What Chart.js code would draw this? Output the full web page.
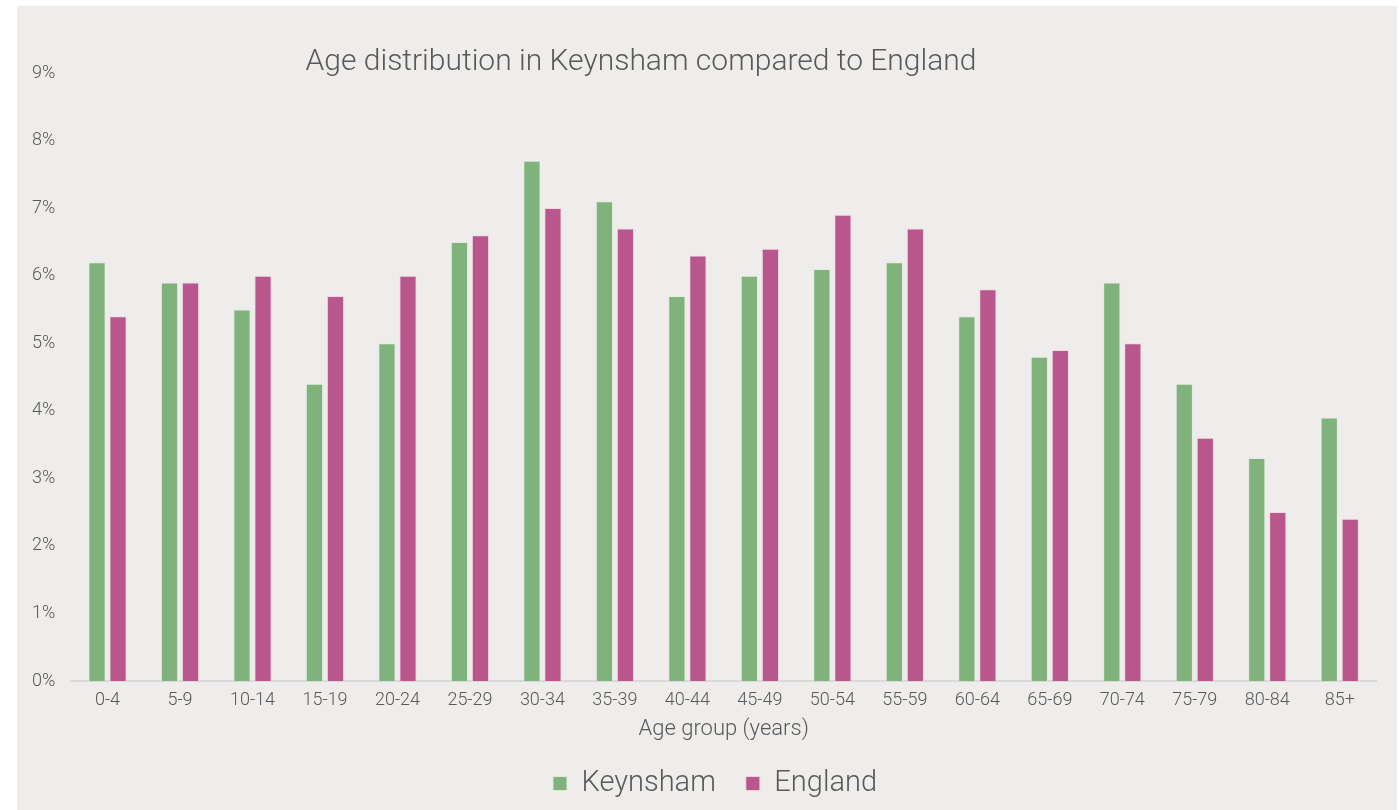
<!DOCTYPE html>
<html>
<head>
<meta charset="utf-8">
<script src="https://cdn.jsdelivr.net/npm/chart.js@4/dist/chart.umd.min.js"></script>
<style>
  html, body { margin: 0; padding: 0; background: #ffffff; }
  #wrap { position: absolute; left: 17px; top: 6px; width: 1380px; height: 804px; background: #eeedeb; }
  canvas { display: block; }
</style>
</head>
<body>
<div id="wrap"><canvas id="c" width="1380" height="804"></canvas></div>
<script>
const categories = ["0-4","5-9","10-14","15-19","20-24","25-29","30-34","35-39","40-44","45-49","50-54","55-59","60-64","65-69","70-74","75-79","80-84","85+"];
const keynsham = [6.2,5.9,5.5,4.4,5.0,6.5,7.7,7.1,5.7,6.0,6.1,6.2,5.4,4.8,5.9,4.4,3.3,3.9];
const england  = [5.4,5.9,6.0,5.7,6.0,6.6,7.0,6.7,6.3,6.4,6.9,6.7,5.8,4.9,5.0,3.6,2.5,2.4];
const yTicks = [0,1,2,3,4,5,6,7,8,9];
const titleText = "Age distribution in Keynsham compared to England";
const xTitle = "Age group (years)";

const FONT = "Roboto, 'Liberation Sans', sans-serif";
const TEXT = "#595959";

const shiftPlugin = {
  id: 'shiftBoxes',
  afterLayout(chart) {
    const t = chart.titleBlock;
    if (t) { const d = 624 - (t.left + t.right) / 2; t.left += d; t.right += d; }
    const l = chart.legend;
    if (l) {
      const d = 698 - (l.left + l.right) / 2; l.left += d; l.right += d;
      l.top += 2; l.bottom += 2;
    }
  }
};

new Chart(document.getElementById('c'), {
  type: 'bar',
  data: {
    labels: categories,
    datasets: [
      { label: 'Keynsham', data: keynsham, backgroundColor: '#80b37b', borderColor: 'rgba(225,235,222,0.9)', borderWidth: 1, categoryPercentage: 0.58, barPercentage: 0.82 },
      { label: 'England', data: england, backgroundColor: '#b9568c', borderColor: 'rgba(235,215,225,0.9)', borderWidth: 1, categoryPercentage: 0.58, barPercentage: 0.82 }
    ]
  },
  plugins: [shiftPlugin],
  options: {
    responsive: false,
    animation: false,
    layout: { padding: { left: -1, right: 21, top: 0, bottom: 4 } },
    plugins: {
      title: {
        display: true, text: titleText, color: TEXT,
        font: { family: FONT, size: 30, weight: '300', lineHeight: 1 },
        padding: { top: 41, bottom: -4 }
      },
      legend: {
        position: 'bottom',
        labels: {
          color: TEXT, font: { family: FONT, size: 29, weight: '300' },
          boxWidth: 14, boxHeight: 14, padding: 30, useBorderRadius: false
        }
      },
      tooltip: { enabled: false }
    },
    scales: {
      x: {
        grid: { display: false, drawTicks: false },
        border: { display: true, color: '#d9d9d9', width: 2 },
        ticks: { color: TEXT, font: { family: FONT, size: 18, weight: '300' }, padding: 9, maxRotation: 0, autoSkip: false },
        title: { display: true, text: xTitle, color: TEXT, font: { family: FONT, size: 22, weight: '300' }, padding: { top: -4, bottom: -6 } }
      },
      y: {
        min: 0, max: 9,
        afterBuildTicks(scale) { scale.ticks = yTicks.map(v => ({ value: v })); },
        grid: { display: false, drawTicks: false },
        border: { display: false },
        ticks: { color: TEXT, font: { family: FONT, size: 18, weight: '300' }, padding: 16, callback: v => v + '%' }
      }
    }
  }
});
</script>
</body>
</html>
